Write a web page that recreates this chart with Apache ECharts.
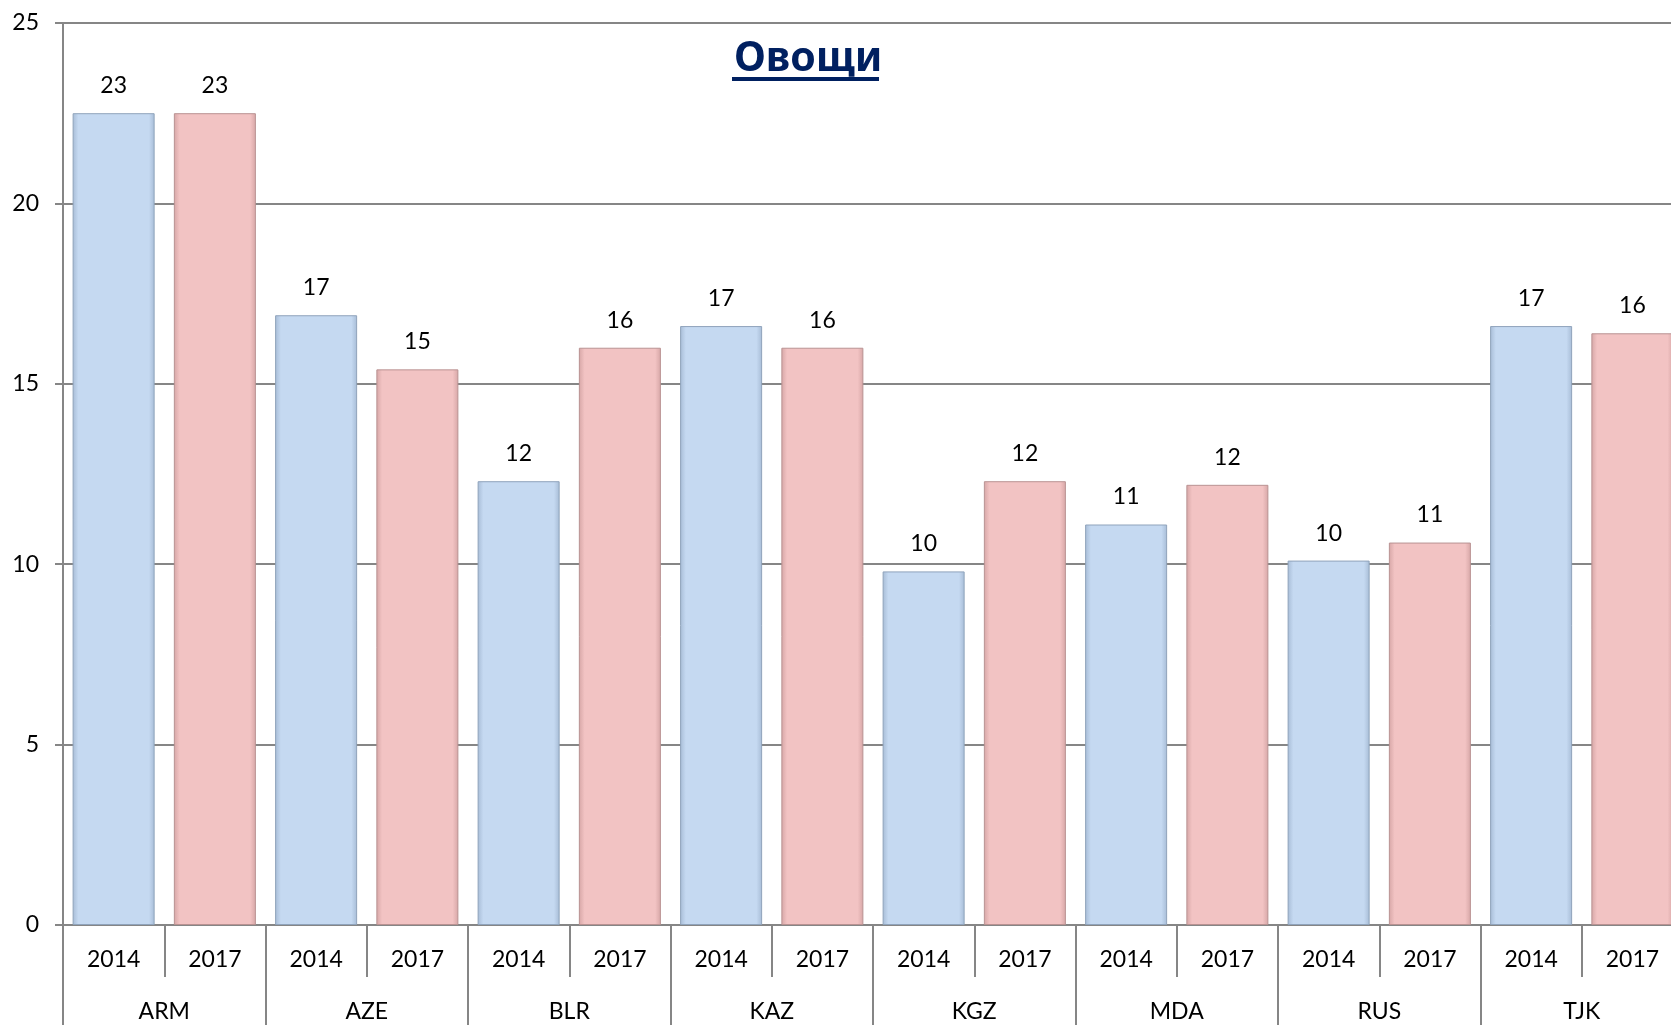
<!DOCTYPE html>
<html>
    <head>
        <meta charset="utf-8">
        <script src="https://cdn.jsdelivr.net/npm/echarts@6/dist/echarts.min.js"></script>
        <style>
            html, body {
                margin: 0;
                padding: 0;
                background: #fff;
                overflow: hidden;
            }
            /* the plot runs a little past the right edge of the window */
            #main {
                width: 1683px;
                height: 1025px;
            }
        </style>
    </head>
    <body>
        <div id="main"></div>
        <script>
            var countries = ['ARM', 'AZE', 'BLR', 'KAZ', 'KGZ', 'MDA', 'RUS', 'TJK'];
            var years = ['2014', '2017'];
            var values2014 = [22.5, 16.9, 12.3, 16.6, 9.8, 11.1, 10.1, 16.6];
            var values2017 = [22.5, 15.4, 16.0, 16.0, 12.3, 12.2, 10.6, 16.4];
            var yTicks = [0, 5, 10, 15, 20, 25];

            var font = 'Lato, "Open Sans", sans-serif';

            function barStyle(base, edge, border) {
                return {
                    color: new echarts.graphic.LinearGradient(0, 0, 1, 0, [
                        {offset: 0, color: edge},
                        {offset: 0.07, color: base},
                        {offset: 0.93, color: base},
                        {offset: 1, color: edge}
                    ]),
                    borderColor: border,
                    borderWidth: 1
                };
            }
            var blueStyle = barStyle('#c5d9f1', '#a7bcd6', '#8fa3bb');
            var pinkStyle = barStyle('#f2c3c3', '#d6a6a6', '#b99292');

            // flat category axis: one slot per country/year
            var yearLabels = [];
            var barData = [];
            for (var i = 0; i < countries.length; i++) {
                yearLabels.push(years[0], years[1]);
                barData.push({value: values2014[i], itemStyle: blueStyle});
                barData.push({value: values2017[i], itemStyle: pinkStyle});
            }

            var chart = echarts.init(document.getElementById('main'));

            chart.setOption({
                animation: false,
                backgroundColor: '#fff',
                title: {
                    text: 'Овощи',
                    left: 729,
                    top: 34,
                    textStyle: {
                        fontFamily: '"Noto Sans", "Open Sans", sans-serif',
                        fontSize: 41,
                        fontWeight: 'bold',
                        color: '#002060'
                    }
                },
                graphic: [{
                    type: 'rect',
                    shape: {x: 732, y: 77, width: 147, height: 4},
                    style: {fill: '#002060'}
                }],
                grid: {
                    left: 63,
                    top: 23,
                    right: 0,
                    bottom: 100,
                    containLabel: false
                },
                xAxis: [{
                    type: 'category',
                    data: yearLabels,
                    position: 'bottom',
                    axisLine: {show: true, lineStyle: {color: '#868686', width: 2}},
                    axisTick: {show: true, interval: 0, length: 52, lineStyle: {color: '#868686', width: 2}},
                    axisLabel: {
                        interval: 0,
                        margin: 23,
                        fontFamily: font,
                        fontSize: 23,
                        color: '#000'
                    }
                }, {
                    type: 'category',
                    data: countries,
                    position: 'bottom',
                    axisLine: {show: false},
                    axisTick: {show: true, interval: 0, length: 100, lineStyle: {color: '#868686', width: 2}},
                    axisLabel: {
                        interval: 0,
                        margin: 75,
                        fontFamily: font,
                        fontSize: 23,
                        color: '#000'
                    }
                }],
                yAxis: {
                    type: 'value',
                    min: yTicks[0],
                    max: yTicks[yTicks.length - 1],
                    interval: 5,
                    axisLine: {show: true, lineStyle: {color: '#868686', width: 2}},
                    axisTick: {show: true, inside: false, length: 8, lineStyle: {color: '#868686', width: 2}},
                    splitLine: {show: true, lineStyle: {color: '#868686', width: 2}},
                    axisLabel: {
                        margin: 24,
                        fontFamily: font,
                        fontSize: 23,
                        color: '#000'
                    }
                },
                series: [{
                    type: 'bar',
                    xAxisIndex: 0,
                    barCategoryGap: '19%',
                    data: barData,
                    label: {
                        show: true,
                        position: 'top',
                        distance: 16,
                        fontFamily: font,
                        fontSize: 23,
                        color: '#000',
                        formatter: function (p) {
                            return Math.round(p.value);
                        }
                    }
                }]
            });
        </script>
    </body>
</html>
